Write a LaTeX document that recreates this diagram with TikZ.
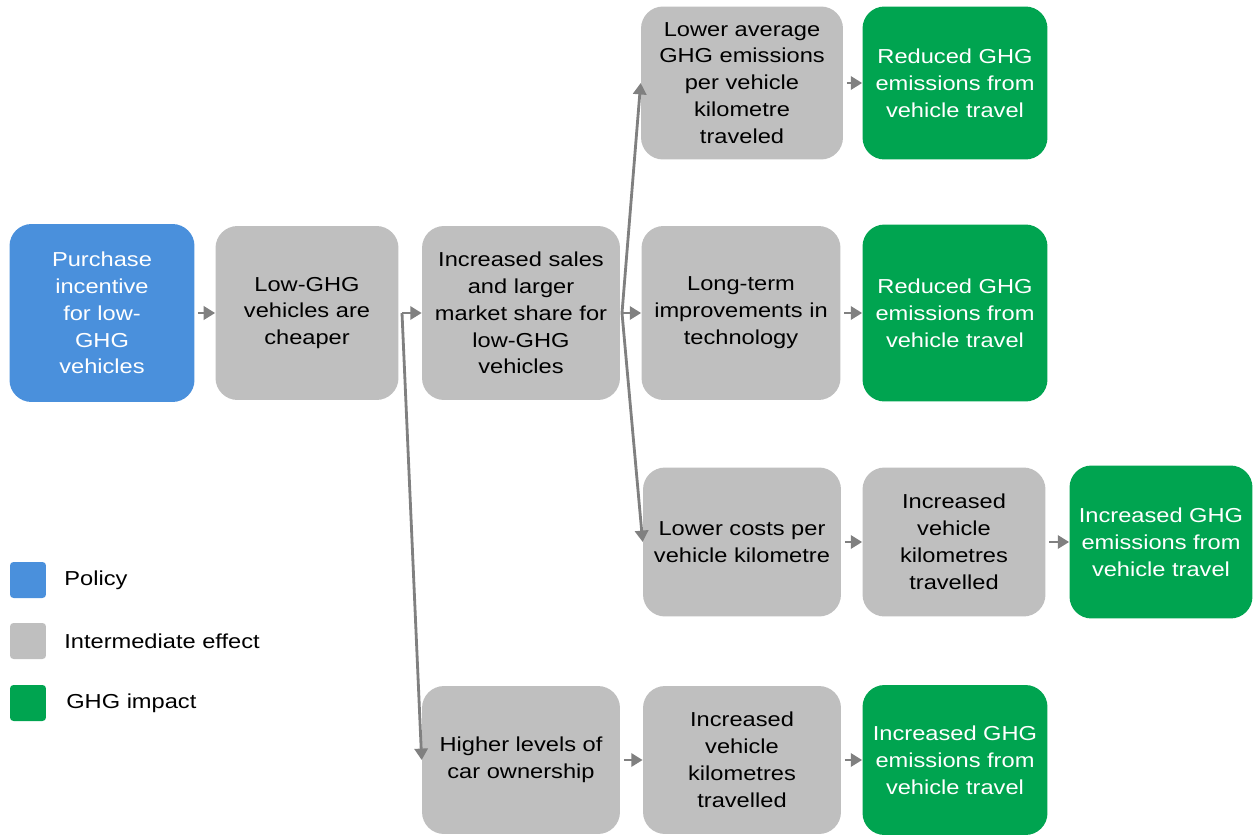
\documentclass[tikz,border=0pt]{standalone}
\usepackage{fontspec}
\setmainfont[FakeStretch=1.17]{Liberation Sans}
\usetikzlibrary{arrows.meta}

\definecolor{polblue}{RGB}{74,144,220}
\definecolor{midgray}{RGB}{191,191,191}
\definecolor{ghggreen}{RGB}{0,164,80}
\definecolor{linkgray}{RGB}{128,128,128}

\begin{document}
\begin{tikzpicture}[x=0.02cm,y=-0.02cm]
	\tikzset{%
		box/.style={rounded corners=0.44cm,align=center,inner sep=0pt,font=\fontsize{11.5}{15.3}\selectfont},
		policy/.style={box,fill=polblue,text=white},
		effect/.style={box,fill=midgray,text=black},
		impact/.style={box,fill=ghggreen,text=white},
		link/.style={-{Triangle[length=6.5pt,width=7.5pt]},line width=1.6pt,draw=linkgray},
		key/.style={rounded corners=2pt,minimum size=0.72cm,inner sep=0pt},
		keytext/.style={anchor=west,inner sep=0pt,font=\fontsize{11.5}{15.3}\selectfont},
	}
	\useasboundingbox (0,0) rectangle (1254,835);

	% first rows
	\node[policy,minimum width=3.7cm,minimum height=3.56cm] (pol) at (102,313) {Purchase\\incentive\\for low-\\GHG\\vehicles};
	\node[effect,minimum width=3.66cm,minimum height=3.48cm] (cheap) at (307,313) {Low-GHG\\vehicles are\\cheaper};
	\node[effect,minimum width=3.96cm,minimum height=3.48cm] (sales) at (521,313) {Increased sales\\and larger\\market share for\\low-GHG\\vehicles};

	\node[effect,minimum width=4.04cm,minimum height=3.06cm] (lowavg) at (742,83) {Lower average\\GHG emissions\\per vehicle\\kilometre\\traveled};
	\node[impact,minimum width=3.7cm,minimum height=3.06cm] (redA) at (955,83) {Reduced GHG\\emissions from\\vehicle travel};

	\node[effect,minimum width=3.98cm,minimum height=3.48cm] (tech) at (741,313) {Long-term\\improvements in\\technology};
	\node[impact,minimum width=3.7cm,minimum height=3.54cm] (redB) at (955,313) {Reduced GHG\\emissions from\\vehicle travel};

	% rebound rows
	\node[effect,minimum width=3.96cm,minimum height=2.98cm] (cost) at (742,542) {Lower costs per\\vehicle kilometre};
	\node[effect,minimum width=3.66cm,minimum height=2.98cm] (vktA) at (954,542) {Increased\\vehicle\\kilometres\\travelled};
	\node[impact,minimum width=3.66cm,minimum height=3.06cm] (incA) at (1161,542) {Increased GHG\\emissions from\\vehicle travel};

	\node[effect,minimum width=3.96cm,minimum height=2.96cm] (own) at (521,760) {Higher levels of\\car ownership};
	\node[effect,minimum width=3.96cm,minimum height=2.96cm] (vktB) at (742,760) {Increased\\vehicle\\kilometres\\travelled};
	\node[impact,minimum width=3.7cm,minimum height=3.0cm] (incB) at (955,760) {Increased GHG\\emissions from\\vehicle travel};

	\coordinate (forkA) at (402,313);
	\coordinate (forkB) at (622,313);

	\draw[link,shorten <=2pt] (pol.east) -- (cheap.west);
	\draw[link] (forkA) -- (sales.west);
	\draw[link] (forkA) -- (own.west);
	\draw[link] (forkB) -- (tech.west);
	\draw[link] (forkB) -- (lowavg.west);
	\draw[link] (forkB) -- (cost.west);
	\draw[link,shorten <=2pt] (lowavg.east) -- (redA.west);
	\draw[link,shorten <=2pt] (tech.east) -- (redB.west);
	\draw[link,shorten <=2pt] (cost.east) -- (vktA.west);
	\draw[link,shorten <=2pt] (vktA.east) -- (incA.west);
	\draw[link,shorten <=2pt] (own.east) -- (vktB.west);
	\draw[link,shorten <=2pt] (vktB.east) -- (incB.west);

	% legend
	\node[key,fill=polblue] (keypol) at (28,580) {};
	\node[keytext] (keypoltext) at (64,580) {Policy};
	\node[key,fill=midgray] (keymid) at (28,641) {};
	\node[keytext] (keymidtext) at (64,641) {Intermediate effect};
	\node[key,fill=ghggreen] (keyghg) at (28,703) {};
	\node[keytext] (keyghgtext) at (66,703) {GHG impact};
\end{tikzpicture}
\end{document}
